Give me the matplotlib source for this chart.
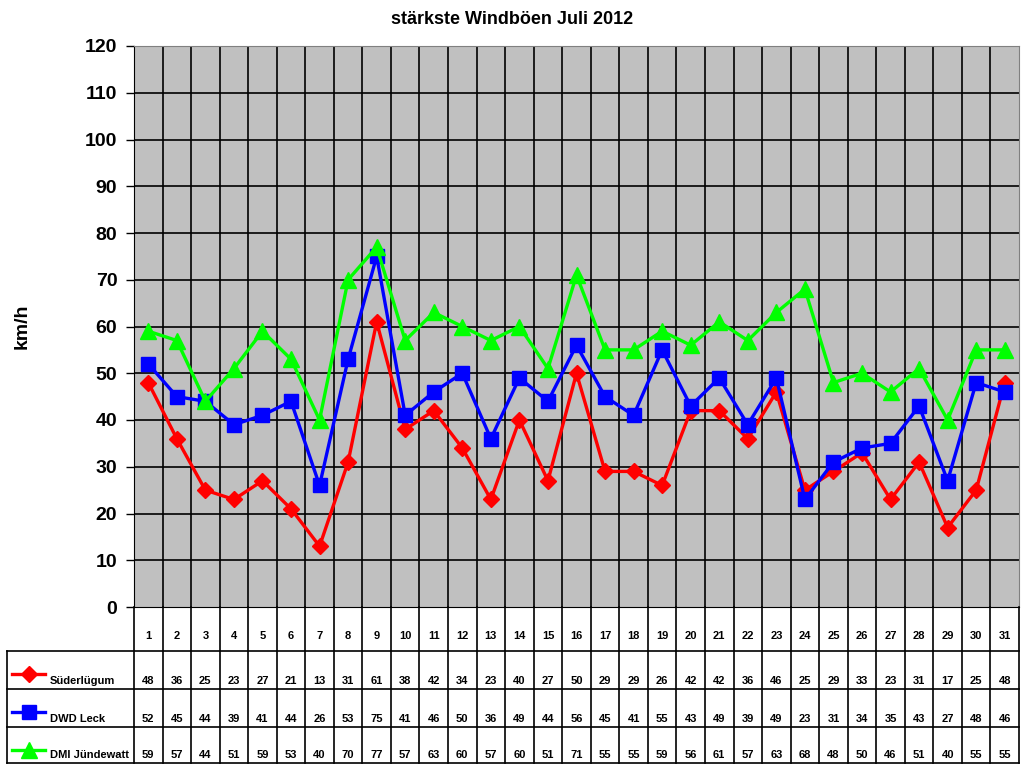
import numpy as np
import matplotlib
matplotlib.use('Agg')
import matplotlib.pyplot as plt
from matplotlib.lines import Line2D

plt.rcParams['font.family'] = ['Liberation Sans', 'DejaVu Sans']
plt.rcParams['font.weight'] = 'bold'

days = list(range(1, 32))
series_names = ['Süderlügum', 'DWD Leck', 'DMI Jündewatt']
suederluegum = [48, 36, 25, 23, 27, 21, 13, 31, 61, 38, 42, 34, 23, 40, 27, 50,
                29, 29, 26, 42, 42, 36, 46, 25, 29, 33, 23, 31, 17, 25, 48]
dwd_leck = [52, 45, 44, 39, 41, 44, 26, 53, 75, 41, 46, 50, 36, 49, 44, 56,
            45, 41, 55, 43, 49, 39, 49, 23, 31, 34, 35, 43, 27, 48, 46]
dmi_juendewatt = [59, 57, 44, 51, 59, 53, 40, 70, 77, 57, 63, 60, 57, 60, 51, 71,
                  55, 55, 59, 56, 61, 57, 63, 68, 48, 50, 46, 51, 40, 55, 55]
y_ticks = list(range(0, 121, 10))

W, H = 1024, 768
fig = plt.figure(figsize=(W / 100, H / 100), dpi=100)

# plot area in pixels
px_l, px_r, px_t, px_b = 134, 1019, 46, 607
ax = fig.add_axes([px_l / W, 1 - px_b / H, (px_r - px_l) / W, (px_b - px_t) / H])
ax.set_facecolor('#c0c0c0')
ax.set_xlim(0.5, 31.5)
ax.set_ylim(0, 120)
ax.set_yticks(y_ticks)
ax.set_yticklabels([str(t) for t in y_ticks], fontsize=14, fontweight='bold')
ax.set_xticks([])
ax.tick_params(axis='y', direction='out', length=6, width=1, pad=6)
for y in y_ticks[1:]:
    ax.axhline(y, color='black', lw=1.2, zorder=1)
for b in np.arange(1.5, 31.5, 1):
    ax.axvline(b, color='black', lw=1.2, zorder=1)
ax.spines['left'].set_color('black')
ax.spines['bottom'].set_color('black')
ax.spines['top'].set_color('#808080')
ax.spines['right'].set_color('#808080')

styles = [('#ff0000', 'D', 8), ('#0000ff', 's', 9.5), ('#00ff00', '^', 11)]
all_vals = [suederluegum, dwd_leck, dmi_juendewatt]
for vals, (c, m, ms) in zip(all_vals, styles):
    ax.plot(days, vals, color=c, lw=2.4, marker=m, markersize=ms,
            markeredgecolor=c, markerfacecolor=c, zorder=3)

fig.text(512 / W, 1 - 20 / H, 'stärkste Windböen Juli 2012', fontsize=13,
         fontweight='bold', ha='center', va='center')
fig.text(22 / W, 1 - 326 / H, 'km/h', rotation=90, fontsize=14, fontweight='bold',
         ha='center', va='center')

# data table below the chart
tax = fig.add_axes([0, 0, 1, 1])
tax.set_xlim(0, W)
tax.set_ylim(H, 0)
tax.axis('off')

col_edges = [px_l + (px_r - px_l) * i / 31 for i in range(32)]
row_edges = [607, 651, 689, 727, 763]
left_edge = 7
lc = 'black'
lw = 1.2
for x in col_edges:
    tax.plot([x, x], [row_edges[0], row_edges[-1]], color=lc, lw=lw)
for y in row_edges[1:]:
    tax.plot([left_edge, px_r], [y, y], color=lc, lw=lw)
tax.plot([left_edge, left_edge], [row_edges[1], row_edges[-1]], color=lc, lw=lw)

tfs = 8
for i, d in enumerate(days):
    xc = (col_edges[i] + col_edges[i + 1]) / 2
    tax.text(xc, 636, str(d), fontsize=tfs, fontweight='bold', ha='center', va='center')
    for r, vals in enumerate(all_vals):
        tax.text(xc, row_edges[r + 2] - 8, str(vals[i]), fontsize=tfs,
                 fontweight='bold', ha='center', va='center')

for r, (name, (c, m, ms)) in enumerate(zip(series_names, styles)):
    ym = row_edges[r + 1] + 23
    tax.add_line(Line2D([12, 45], [ym, ym], color=c, lw=2.4))
    tax.plot([28.5], [ym], marker=m, color=c, markersize=ms)
    tax.text(50, row_edges[r + 2] - 8, name, fontsize=tfs, fontweight='bold',
             ha='left', va='center')

fig.savefig('out.png', dpi=100)
